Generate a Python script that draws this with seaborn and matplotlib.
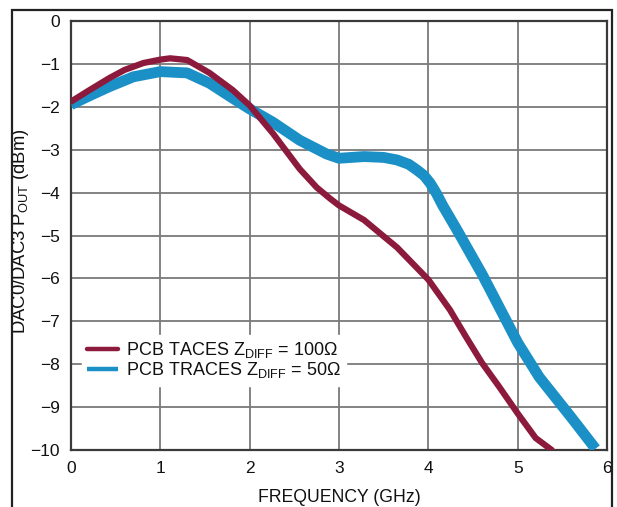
import matplotlib
matplotlib.use("Agg")
import matplotlib.pyplot as plt
import seaborn as sns
from matplotlib.patches import Rectangle

# ======= DATA =======
freq_100 = [0.0, 0.2, 0.43, 0.6, 0.81, 1.0, 1.11, 1.3, 1.55, 1.81, 2.0, 2.26,
            2.56, 2.75, 2.9, 3.0, 3.28, 3.65, 4.0, 4.24, 4.42, 4.6, 4.79, 5.0,
            5.2, 5.38]
pout_100 = [-1.88, -1.62, -1.33, -1.14, -0.98, -0.9, -0.87, -0.91, -1.21, -1.61,
            -1.97, -2.62, -3.45, -3.88, -4.14, -4.3, -4.64, -5.28, -6.03, -6.73,
            -7.36, -7.97, -8.52, -9.15, -9.72, -10.0]

freq_50 = [0.0, 0.2, 0.43, 0.7, 1.0, 1.3, 1.55, 1.81, 2.0, 2.26, 2.56, 2.86,
           3.0, 3.28, 3.5, 3.65, 3.78, 3.87, 3.95, 4.02, 4.09, 4.16, 4.32, 4.6,
           4.8, 5.0, 5.24, 5.61, 5.87]
pout_50 = [-1.95, -1.75, -1.53, -1.3, -1.18, -1.21, -1.45, -1.8, -2.05, -2.36,
           -2.78, -3.1, -3.2, -3.16, -3.18, -3.24, -3.34, -3.47, -3.6, -3.78,
           -4.02, -4.3, -4.87, -5.9, -6.7, -7.5, -8.3, -9.27, -9.97]

x_ticks = [0, 1, 2, 3, 4, 5, 6]
y_ticks = [0, -1, -2, -3, -4, -5, -6, -7, -8, -9, -10]

label_100 = "PCB TACES Z$_{\\mathregular{DIFF}}$ = 100Ω"
label_50 = "PCB TRACES Z$_{\\mathregular{DIFF}}$ = 50Ω"
# ==============================================

sns.set_style("white")
plt.rcParams['font.family'] = ['Liberation Sans', 'DejaVu Sans']
plt.rcParams['axes.unicode_minus'] = True

red = "#8c1a3c"
blue = "#1b90c6"
ink = "#111111"

fig = plt.figure(figsize=(6.17, 5.07), dpi=100)
ax = fig.add_axes([0.115, 0.1124, 0.869, 0.8462])

sns.lineplot(x=freq_100, y=pout_100, color=red, linewidth=4.5, sort=False,
             label=label_100, ax=ax, zorder=4, solid_joinstyle="round",
             solid_capstyle="round")
sns.lineplot(x=freq_50, y=pout_50, color=blue, linewidth=7.8, sort=False,
             label=label_50, ax=ax, zorder=3, solid_joinstyle="round",
             solid_capstyle="butt")

ax.set_xlim(0, 6)
ax.set_ylim(-10, 0)
ax.set_xticks(x_ticks)
ax.set_yticks(y_ticks)
ax.grid(True, color="#7a7a7a", linewidth=1.3)
for s in ax.spines.values():
    s.set_color("#3a3a3a")
    s.set_linewidth(1.6)
ax.tick_params(labelsize=12.5, colors=ink, length=0, pad=8)
ax.set_xlabel("FREQUENCY (GHz)", fontsize=12.7, color=ink, labelpad=9)
ax.set_ylabel("DAC0/DAC3 P$_{\\mathregular{OUT}}$ (dBm)", fontsize=13.3,
              color=ink)
ax.yaxis.set_label_coords(-0.074, 0.51)

leg = ax.legend(loc="upper left", bbox_to_anchor=(0.02, 0.268), frameon=True,
                fontsize=13, handlelength=1.7, handletextpad=0.45,
                labelspacing=0.0, borderpad=0.3, borderaxespad=0)
leg.get_frame().set_facecolor("white")
leg.get_frame().set_edgecolor("white")
leg.get_frame().set_alpha(1)
for text in leg.get_texts():
    text.set_color(ink)
for line in leg.get_lines():
    line.set_linewidth(3.2)

# outer frame around the figure (open at the bottom)
fig.patches.append(Rectangle((12 / 617, -0.05), 600 / 617, 1.05 - 10 / 507,
                             transform=fig.transFigure, fill=False,
                             edgecolor="#222222", linewidth=1.6))

plt.savefig("out.png", dpi=100)
